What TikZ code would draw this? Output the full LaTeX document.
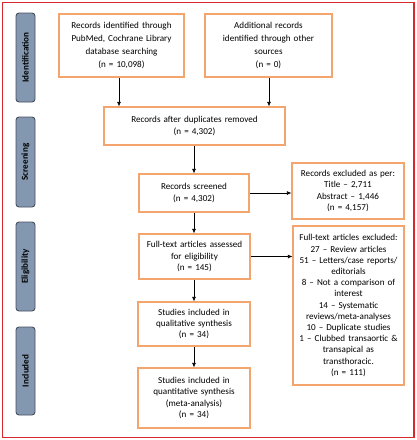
\documentclass[tikz,border=0pt]{standalone}
\usepackage{fontspec}
\setmainfont{Carlito}
\usetikzlibrary{arrows.meta}
\definecolor{boxorange}{RGB}{244,165,110}
\definecolor{sidefill}{RGB}{132,151,176}
\definecolor{sidedraw}{RGB}{70,80,95}
\definecolor{framered}{RGB}{215,40,45}
\begin{document}
\begin{tikzpicture}[x=1pt,y=-1pt,
  every node/.style={font=\fontsize{9.1}{11.2}\selectfont, inner sep=0pt},
  tallspacing/.style={font=\fontsize{9.1}{13}\selectfont},
  flowbox/.style={draw=boxorange, line width=1.1pt, fill=white, align=center, text width=#1-4pt},
  flowbox/.default=110pt,
  sidebox/.style={draw=sidedraw, line width=0.9pt, fill=sidefill, rounded corners=3pt,
     minimum height=19pt, rotate=90, font=\fontsize{9.1}{13}\selectfont\bfseries},
  arr/.style={-{Latex[length=4.5pt,width=4pt]}, line width=0.7pt, black}]
\useasboundingbox (0,0) rectangle (417,440);
\draw[framered, line width=1.2pt] (2.5,2.5) rectangle (414,437.5);

% sidebars
\node[sidebox, minimum width=89pt] (sid) at (25.5,57.5) {Identification};
\node[sidebox, minimum width=90pt] (sscr) at (25.5,162) {Screening};
\node[sidebox, minimum width=89pt] (selig) at (25.5,266.5) {Eligibility};
\node[sidebox, minimum width=88pt] (sinc) at (25.5,371) {Included};

% boxes
\node[flowbox=125pt, tallspacing, minimum width=125pt, minimum height=63pt] (b1) at (121.5,45.5)
  {Records identified through\\PubMed, Cochrane Library\\database searching\\(n = 10,098)};
\node[flowbox=127pt, tallspacing, minimum width=127pt, minimum height=63pt] (b2) at (268.5,45.5)
  {Additional records\\identified through other\\sources\\(n = 0)};
\node[flowbox=181pt, minimum width=181pt, minimum height=38pt] (b3) at (194.5,126)
  {Records after duplicates removed\\(n = 4,302)};
\node[flowbox=110pt, minimum width=110pt, minimum height=38pt] (b4) at (194,193)
  {Records screened\\(n = 4,302)};
\node[flowbox=112pt, minimum width=112pt, minimum height=56pt] (b5) at (348,191)
  {Records excluded as per:\\Title -- 2,711\\Abstract -- 1,446\\(n = 4,157)};
\node[flowbox=111pt, minimum width=111pt, minimum height=45pt] (b6) at (194.5,256.5)
  {Full-text articles assessed\\for eligibility\\(n = 145)};
\node[flowbox=111pt, minimum width=111pt, minimum height=159pt] (b7) at (348.5,305.5)
  {Full-text articles excluded:\\27 -- Review articles\\51 -- Letters/case reports/\\editorials\\8 -- Not a comparison of\\interest\\14 -- Systematic\\reviews/meta-analyses\\10 -- Duplicate studies\\1 -- Clubbed transaortic \&\\transapical as\\transthoracic.\\(n = 111)};
\node[flowbox=112pt, minimum width=112pt, minimum height=44pt] (b8) at (194,324)
  {Studies included in\\qualitative synthesis\\(n = 34)};
\node[flowbox=112pt, minimum width=112pt, minimum height=60pt] (b9) at (194,398)
  {Studies included in\\quantitative synthesis\\(meta-analysis)\\(n = 34)};

% arrows
\coordinate (a1) at (119,0);
\coordinate (a2) at (269,0);
\draw[arr] (a1 |- b1.south) -- (a1 |- b3.north);
\draw[arr] (a2 |- b2.south) -- (a2 |- b3.north);
\draw[arr] (b3.south -| b4.north) -- (b4.north);
\draw[arr] (b4.south) -- (b6.north -| b4.south);
\draw[arr] (b6.south -| b8.north) -- (b8.north);
\draw[arr] (b8.south) -- (b9.north);
\draw[arr] (b4.east) -- (b4.east -| b5.west);
\draw[arr] (b6.east) -- (b6.east -| b7.west);
\end{tikzpicture}
\end{document}
